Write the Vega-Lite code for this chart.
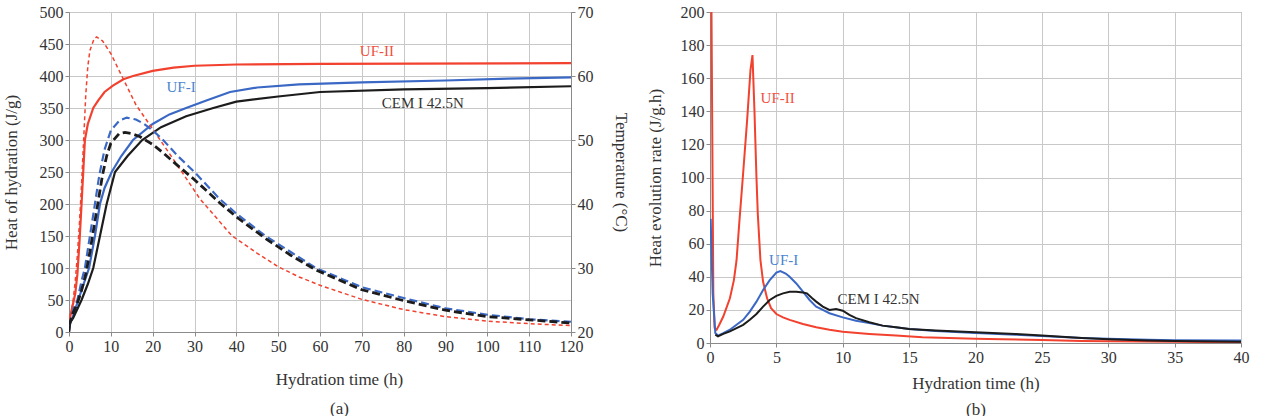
{
  "$schema": "https://vega.github.io/schema/vega-lite/v6.json",
  "background": "white",
  "padding": {"left": 1, "top": 3, "right": 5, "bottom": 0},
  "spacing": 15,
  "config": {
    "font": "Liberation Serif",
    "axis": {
      "labelFont": "Liberation Serif",
      "titleFont": "Liberation Serif",
      "labelFontSize": 16,
      "titleFontSize": 17,
      "titleFontWeight": "normal",
      "labelColor": "#333333",
      "titleColor": "#333333",
      "labelOverlap": false,
      "labelFlush": false,
      "gridColor": "#c8c8c8",
      "gridOpacity": 1,
      "domainColor": "#8a8a8a",
      "tickColor": "#8a8a8a",
      "tickSize": 4
    },
    "view": {"stroke": "#999999"}
  },
  "datasets": {
    "heat": [
      {"series": "UF-II", "t": 0, "H": 0}, {"series": "UF-II", "t": 0.3, "H": 25}, {"series": "UF-II", "t": 1, "H": 45}, {"series": "UF-II", "t": 1.5, "H": 60}, {"series": "UF-II", "t": 2, "H": 90}, {"series": "UF-II", "t": 2.5, "H": 140}, {"series": "UF-II", "t": 3, "H": 200}, {"series": "UF-II", "t": 3.4, "H": 250}, {"series": "UF-II", "t": 3.8, "H": 300}, {"series": "UF-II", "t": 4.5, "H": 325}, {"series": "UF-II", "t": 5.8, "H": 350}, {"series": "UF-II", "t": 7, "H": 362}, {"series": "UF-II", "t": 8.5, "H": 375}, {"series": "UF-II", "t": 10.5, "H": 385}, {"series": "UF-II", "t": 13, "H": 395}, {"series": "UF-II", "t": 15.3, "H": 400}, {"series": "UF-II", "t": 20, "H": 408}, {"series": "UF-II", "t": 25, "H": 413}, {"series": "UF-II", "t": 30, "H": 416}, {"series": "UF-II", "t": 40, "H": 418}, {"series": "UF-II", "t": 60, "H": 419}, {"series": "UF-II", "t": 120, "H": 420},
      {"series": "UF-I", "t": 0, "H": 0}, {"series": "UF-I", "t": 0.3, "H": 15}, {"series": "UF-I", "t": 1, "H": 25}, {"series": "UF-I", "t": 2.2, "H": 50}, {"series": "UF-I", "t": 3.5, "H": 75}, {"series": "UF-I", "t": 4.8, "H": 100}, {"series": "UF-I", "t": 6.2, "H": 150}, {"series": "UF-I", "t": 7.4, "H": 200}, {"series": "UF-I", "t": 8.5, "H": 225}, {"series": "UF-I", "t": 10.2, "H": 250}, {"series": "UF-I", "t": 12.5, "H": 275}, {"series": "UF-I", "t": 15.3, "H": 300}, {"series": "UF-I", "t": 20, "H": 325}, {"series": "UF-I", "t": 24, "H": 340}, {"series": "UF-I", "t": 28, "H": 350}, {"series": "UF-I", "t": 33, "H": 362}, {"series": "UF-I", "t": 38.5, "H": 375}, {"series": "UF-I", "t": 45, "H": 382}, {"series": "UF-I", "t": 55, "H": 387}, {"series": "UF-I", "t": 70, "H": 390}, {"series": "UF-I", "t": 90, "H": 393}, {"series": "UF-I", "t": 105, "H": 396}, {"series": "UF-I", "t": 120, "H": 398},
      {"series": "CEM I 42.5N", "t": 0, "H": 0}, {"series": "CEM I 42.5N", "t": 0.3, "H": 15}, {"series": "CEM I 42.5N", "t": 1, "H": 22}, {"series": "CEM I 42.5N", "t": 3, "H": 50}, {"series": "CEM I 42.5N", "t": 4.5, "H": 75}, {"series": "CEM I 42.5N", "t": 5.8, "H": 100}, {"series": "CEM I 42.5N", "t": 7.4, "H": 150}, {"series": "CEM I 42.5N", "t": 9, "H": 200}, {"series": "CEM I 42.5N", "t": 11, "H": 250}, {"series": "CEM I 42.5N", "t": 14, "H": 275}, {"series": "CEM I 42.5N", "t": 17.5, "H": 300}, {"series": "CEM I 42.5N", "t": 22, "H": 320}, {"series": "CEM I 42.5N", "t": 28, "H": 337}, {"series": "CEM I 42.5N", "t": 34.5, "H": 350}, {"series": "CEM I 42.5N", "t": 40, "H": 360}, {"series": "CEM I 42.5N", "t": 50, "H": 368}, {"series": "CEM I 42.5N", "t": 60, "H": 375}, {"series": "CEM I 42.5N", "t": 80, "H": 379}, {"series": "CEM I 42.5N", "t": 100, "H": 381}, {"series": "CEM I 42.5N", "t": 120, "H": 384}
    ],
    "temp": [
      {"series": "UF-II", "t": 0, "T": 21.5}, {"series": "UF-II", "t": 0.5, "T": 23}, {"series": "UF-II", "t": 1, "T": 25}, {"series": "UF-II", "t": 1.5, "T": 28}, {"series": "UF-II", "t": 2, "T": 32}, {"series": "UF-II", "t": 2.5, "T": 37}, {"series": "UF-II", "t": 3, "T": 43}, {"series": "UF-II", "t": 3.5, "T": 50}, {"series": "UF-II", "t": 4, "T": 57}, {"series": "UF-II", "t": 4.5, "T": 61.5}, {"series": "UF-II", "t": 5, "T": 64}, {"series": "UF-II", "t": 6, "T": 65.8}, {"series": "UF-II", "t": 6.6, "T": 66.1}, {"series": "UF-II", "t": 8, "T": 65.5}, {"series": "UF-II", "t": 10, "T": 63.5}, {"series": "UF-II", "t": 13, "T": 59.5}, {"series": "UF-II", "t": 16, "T": 55.5}, {"series": "UF-II", "t": 21.8, "T": 50}, {"series": "UF-II", "t": 27, "T": 45}, {"series": "UF-II", "t": 31.3, "T": 40.8}, {"series": "UF-II", "t": 39, "T": 35}, {"series": "UF-II", "t": 45, "T": 32.3}, {"series": "UF-II", "t": 50, "T": 30.2}, {"series": "UF-II", "t": 55, "T": 28.6}, {"series": "UF-II", "t": 60, "T": 27.3}, {"series": "UF-II", "t": 70, "T": 25.1}, {"series": "UF-II", "t": 80, "T": 23.5}, {"series": "UF-II", "t": 90, "T": 22.4}, {"series": "UF-II", "t": 100, "T": 21.7}, {"series": "UF-II", "t": 110, "T": 21.3}, {"series": "UF-II", "t": 120, "T": 21},
      {"series": "UF-I", "t": 0, "T": 21}, {"series": "UF-I", "t": 0.5, "T": 22}, {"series": "UF-I", "t": 1, "T": 23.5}, {"series": "UF-I", "t": 2, "T": 25}, {"series": "UF-I", "t": 3, "T": 28}, {"series": "UF-I", "t": 3.8, "T": 30}, {"series": "UF-I", "t": 5, "T": 35}, {"series": "UF-I", "t": 6.2, "T": 40}, {"series": "UF-I", "t": 7, "T": 43.5}, {"series": "UF-I", "t": 7.4, "T": 45}, {"series": "UF-I", "t": 8.5, "T": 48.5}, {"series": "UF-I", "t": 10, "T": 51.5}, {"series": "UF-I", "t": 12, "T": 53}, {"series": "UF-I", "t": 13.8, "T": 53.5}, {"series": "UF-I", "t": 16, "T": 53.2}, {"series": "UF-I", "t": 18, "T": 52.5}, {"series": "UF-I", "t": 20, "T": 51.5}, {"series": "UF-I", "t": 22.5, "T": 50}, {"series": "UF-I", "t": 26, "T": 47.5}, {"series": "UF-I", "t": 30, "T": 45}, {"series": "UF-I", "t": 36, "T": 40.8}, {"series": "UF-I", "t": 40, "T": 38.5}, {"series": "UF-I", "t": 47, "T": 35}, {"series": "UF-I", "t": 53, "T": 32.5}, {"series": "UF-I", "t": 59, "T": 30}, {"series": "UF-I", "t": 70, "T": 27}, {"series": "UF-I", "t": 80, "T": 25.3}, {"series": "UF-I", "t": 90, "T": 23.7}, {"series": "UF-I", "t": 100, "T": 22.7}, {"series": "UF-I", "t": 110, "T": 22}, {"series": "UF-I", "t": 120, "T": 21.6},
      {"series": "CEM I 42.5N", "t": 0, "T": 21}, {"series": "CEM I 42.5N", "t": 0.5, "T": 22}, {"series": "CEM I 42.5N", "t": 1, "T": 23}, {"series": "CEM I 42.5N", "t": 2, "T": 24.5}, {"series": "CEM I 42.5N", "t": 3, "T": 26.5}, {"series": "CEM I 42.5N", "t": 4, "T": 29}, {"series": "CEM I 42.5N", "t": 5, "T": 32.5}, {"series": "CEM I 42.5N", "t": 6, "T": 36.5}, {"series": "CEM I 42.5N", "t": 7, "T": 40.5}, {"series": "CEM I 42.5N", "t": 8, "T": 44.5}, {"series": "CEM I 42.5N", "t": 9, "T": 47.5}, {"series": "CEM I 42.5N", "t": 10, "T": 49.5}, {"series": "CEM I 42.5N", "t": 12, "T": 51}, {"series": "CEM I 42.5N", "t": 13.4, "T": 51.2}, {"series": "CEM I 42.5N", "t": 15, "T": 51}, {"series": "CEM I 42.5N", "t": 17, "T": 50.5}, {"series": "CEM I 42.5N", "t": 20, "T": 49.3}, {"series": "CEM I 42.5N", "t": 22.5, "T": 48}, {"series": "CEM I 42.5N", "t": 26, "T": 46}, {"series": "CEM I 42.5N", "t": 30, "T": 43.8}, {"series": "CEM I 42.5N", "t": 36, "T": 40.2}, {"series": "CEM I 42.5N", "t": 40, "T": 38}, {"series": "CEM I 42.5N", "t": 47, "T": 34.6}, {"series": "CEM I 42.5N", "t": 53, "T": 32}, {"series": "CEM I 42.5N", "t": 59, "T": 29.7}, {"series": "CEM I 42.5N", "t": 70, "T": 26.6}, {"series": "CEM I 42.5N", "t": 80, "T": 24.9}, {"series": "CEM I 42.5N", "t": 90, "T": 23.4}, {"series": "CEM I 42.5N", "t": 100, "T": 22.4}, {"series": "CEM I 42.5N", "t": 110, "T": 21.9}, {"series": "CEM I 42.5N", "t": 120, "T": 21.4}
    ],
    "rate": [
      {"series": "UF-II", "t": 0.1, "r": 215}, {"series": "UF-II", "t": 0.25, "r": 30}, {"series": "UF-II", "t": 0.35, "r": 9}, {"series": "UF-II", "t": 0.5, "r": 8}, {"series": "UF-II", "t": 0.7, "r": 11}, {"series": "UF-II", "t": 1, "r": 16}, {"series": "UF-II", "t": 1.5, "r": 27}, {"series": "UF-II", "t": 1.8, "r": 38}, {"series": "UF-II", "t": 2, "r": 50}, {"series": "UF-II", "t": 2.2, "r": 72}, {"series": "UF-II", "t": 2.5, "r": 103}, {"series": "UF-II", "t": 2.8, "r": 135}, {"series": "UF-II", "t": 3.05, "r": 165}, {"series": "UF-II", "t": 3.2, "r": 174}, {"series": "UF-II", "t": 3.35, "r": 140}, {"series": "UF-II", "t": 3.5, "r": 100}, {"series": "UF-II", "t": 3.6, "r": 78}, {"series": "UF-II", "t": 3.8, "r": 50}, {"series": "UF-II", "t": 4, "r": 37}, {"series": "UF-II", "t": 4.3, "r": 27}, {"series": "UF-II", "t": 4.6, "r": 21}, {"series": "UF-II", "t": 5, "r": 17.5}, {"series": "UF-II", "t": 5.5, "r": 15.5}, {"series": "UF-II", "t": 6, "r": 14}, {"series": "UF-II", "t": 7, "r": 11.5}, {"series": "UF-II", "t": 8, "r": 9.5}, {"series": "UF-II", "t": 9, "r": 8}, {"series": "UF-II", "t": 10, "r": 6.8}, {"series": "UF-II", "t": 12, "r": 5.5}, {"series": "UF-II", "t": 14, "r": 4.5}, {"series": "UF-II", "t": 16, "r": 3.5}, {"series": "UF-II", "t": 18, "r": 3}, {"series": "UF-II", "t": 20, "r": 2.5}, {"series": "UF-II", "t": 22, "r": 2.2}, {"series": "UF-II", "t": 25, "r": 1.8}, {"series": "UF-II", "t": 28, "r": 1.2}, {"series": "UF-II", "t": 30, "r": 1}, {"series": "UF-II", "t": 35, "r": 0.7}, {"series": "UF-II", "t": 40, "r": 0.5},
      {"series": "UF-I", "t": 0.05, "r": 75}, {"series": "UF-I", "t": 0.2, "r": 30}, {"series": "UF-I", "t": 0.4, "r": 6}, {"series": "UF-I", "t": 0.6, "r": 4.5}, {"series": "UF-I", "t": 1, "r": 6}, {"series": "UF-I", "t": 1.5, "r": 8}, {"series": "UF-I", "t": 2, "r": 11}, {"series": "UF-I", "t": 2.5, "r": 14}, {"series": "UF-I", "t": 3, "r": 19}, {"series": "UF-I", "t": 3.5, "r": 25}, {"series": "UF-I", "t": 4, "r": 32}, {"series": "UF-I", "t": 4.5, "r": 38}, {"series": "UF-I", "t": 5, "r": 42.5}, {"series": "UF-I", "t": 5.3, "r": 43.5}, {"series": "UF-I", "t": 5.7, "r": 42}, {"series": "UF-I", "t": 6, "r": 40}, {"series": "UF-I", "t": 6.5, "r": 36}, {"series": "UF-I", "t": 7, "r": 31}, {"series": "UF-I", "t": 7.5, "r": 26}, {"series": "UF-I", "t": 8, "r": 22}, {"series": "UF-I", "t": 8.5, "r": 20}, {"series": "UF-I", "t": 9, "r": 18}, {"series": "UF-I", "t": 10, "r": 15.5}, {"series": "UF-I", "t": 11, "r": 13.5}, {"series": "UF-I", "t": 12, "r": 12}, {"series": "UF-I", "t": 13, "r": 10.5}, {"series": "UF-I", "t": 14, "r": 9.5}, {"series": "UF-I", "t": 15, "r": 8.5}, {"series": "UF-I", "t": 17, "r": 7.2}, {"series": "UF-I", "t": 20, "r": 6}, {"series": "UF-I", "t": 23, "r": 5}, {"series": "UF-I", "t": 25, "r": 4.2}, {"series": "UF-I", "t": 28, "r": 3}, {"series": "UF-I", "t": 30, "r": 2.5}, {"series": "UF-I", "t": 33, "r": 2}, {"series": "UF-I", "t": 35, "r": 1.7}, {"series": "UF-I", "t": 40, "r": 1.5},
      {"series": "CEM I 42.5N", "t": 0.4, "r": 5}, {"series": "CEM I 42.5N", "t": 0.6, "r": 4}, {"series": "CEM I 42.5N", "t": 1, "r": 5.5}, {"series": "CEM I 42.5N", "t": 1.5, "r": 7}, {"series": "CEM I 42.5N", "t": 2, "r": 9}, {"series": "CEM I 42.5N", "t": 2.5, "r": 11}, {"series": "CEM I 42.5N", "t": 3, "r": 14}, {"series": "CEM I 42.5N", "t": 3.5, "r": 17.5}, {"series": "CEM I 42.5N", "t": 4, "r": 22}, {"series": "CEM I 42.5N", "t": 4.5, "r": 26}, {"series": "CEM I 42.5N", "t": 5, "r": 28.5}, {"series": "CEM I 42.5N", "t": 5.5, "r": 30}, {"series": "CEM I 42.5N", "t": 6, "r": 31}, {"series": "CEM I 42.5N", "t": 6.5, "r": 31}, {"series": "CEM I 42.5N", "t": 7, "r": 30.5}, {"series": "CEM I 42.5N", "t": 7.3, "r": 30}, {"series": "CEM I 42.5N", "t": 7.7, "r": 27}, {"series": "CEM I 42.5N", "t": 8, "r": 25}, {"series": "CEM I 42.5N", "t": 8.5, "r": 22}, {"series": "CEM I 42.5N", "t": 9, "r": 20}, {"series": "CEM I 42.5N", "t": 9.5, "r": 20.5}, {"series": "CEM I 42.5N", "t": 10, "r": 19.5}, {"series": "CEM I 42.5N", "t": 10.5, "r": 17}, {"series": "CEM I 42.5N", "t": 11, "r": 15}, {"series": "CEM I 42.5N", "t": 12, "r": 12.5}, {"series": "CEM I 42.5N", "t": 13, "r": 10.5}, {"series": "CEM I 42.5N", "t": 14, "r": 9.5}, {"series": "CEM I 42.5N", "t": 15, "r": 8.5}, {"series": "CEM I 42.5N", "t": 17, "r": 7.5}, {"series": "CEM I 42.5N", "t": 20, "r": 6.5}, {"series": "CEM I 42.5N", "t": 23, "r": 5.5}, {"series": "CEM I 42.5N", "t": 25, "r": 4.5}, {"series": "CEM I 42.5N", "t": 28, "r": 3}, {"series": "CEM I 42.5N", "t": 30, "r": 2.2}, {"series": "CEM I 42.5N", "t": 33, "r": 1.5}, {"series": "CEM I 42.5N", "t": 35, "r": 1.2}, {"series": "CEM I 42.5N", "t": 40, "r": 0.8}
    ],
    "labelsA": [
      {"series": "UF-II", "label": "UF-II", "t": 73.6, "H": 439},
      {"series": "UF-I", "label": "UF-I", "t": 26.8, "H": 383},
      {"series": "CEM I 42.5N", "label": "CEM I 42.5N", "t": 84.6, "H": 358}
    ],
    "labelsB": [
      {"series": "UF-II", "label": "UF-II", "t": 5.1, "r": 148},
      {"series": "UF-I", "label": "UF-I", "t": 5.55, "r": 50},
      {"series": "CEM I 42.5N", "label": "CEM I 42.5N", "t": 12.7, "r": 26.6}
    ]
  },
  "hconcat": [
    {
      "width": 502,
      "height": 320,
      "layer": [
        {
          "encoding": {
            "x": {"field": "t", "type": "quantitative", "scale": {"domain": [0, 120], "nice": false},
              "axis": {"values": [0, 10, 20, 30, 40, 50, 60, 70, 80, 90, 100, 110, 120], "title": ["Hydration time (h)", "(a)"], "titleLineHeight": 29, "titlePadding": 17, "titleX": 270}},
            "y": {"field": "H", "type": "quantitative", "scale": {"domain": [0, 500], "nice": false},
              "axis": {"values": [0, 50, 100, 150, 200, 250, 300, 350, 400, 450, 500], "title": "Heat of hydration (J/g)", "titlePadding": 19}}
          },
          "layer": [
            {
              "data": {"name": "heat"},
              "mark": {"type": "line", "strokeWidth": 2.2, "clip": true},
              "encoding": {
                "color": {"field": "series", "type": "nominal", "scale": {"domain": ["UF-II", "UF-I", "CEM I 42.5N"], "range": ["#f2412e", "#3a68c4", "#1c1c1c"]}, "legend": null}
              }
            },
            {
              "data": {"name": "labelsA"},
              "mark": {"type": "text", "fontSize": 15, "font": "Liberation Serif", "baseline": "middle", "align": "center"},
              "encoding": {
                "text": {"field": "label"},
                "fill": {"field": "series", "type": "nominal", "scale": {"domain": ["UF-II", "UF-I", "CEM I 42.5N"], "range": ["#f0503f", "#4a85cf", "#333333"]}, "legend": null}
              }
            }
          ]
        },
        {
          "data": {"name": "temp"},
          "mark": {"type": "line", "clip": true},
          "encoding": {
            "x": {"field": "t", "type": "quantitative", "scale": {"domain": [0, 120], "nice": false},
              "axis": {"values": [0, 10, 20, 30, 40, 50, 60, 70, 80, 90, 100, 110, 120], "title": ["Hydration time (h)", "(a)"], "titleLineHeight": 29, "titlePadding": 17, "titleX": 270}},
            "y": {"field": "T", "type": "quantitative", "scale": {"domain": [20, 70], "nice": false},
              "axis": {"orient": "right", "values": [20, 30, 40, 50, 60, 70], "grid": false, "title": "Temperature (°C)", "titlePadding": 18}},
            "color": {"field": "series", "type": "nominal", "legend": null},
            "strokeDash": {"field": "series", "type": "nominal", "scale": {"domain": ["UF-II", "UF-I", "CEM I 42.5N"], "range": [[4, 3], [8, 4], [8, 4]]}, "legend": null},
            "strokeWidth": {"field": "series", "type": "nominal", "scale": {"domain": ["UF-II", "UF-I", "CEM I 42.5N"], "range": [1.5, 2.8, 2.8]}, "legend": null}
          }
        }
      ],
      "resolve": {"scale": {"y": "independent"}}
    },
    {
      "width": 531,
      "height": 331,
      "encoding": {
        "x": {"field": "t", "type": "quantitative", "scale": {"domain": [0, 40], "nice": false},
          "axis": {"values": [0, 5, 10, 15, 20, 25, 30, 35, 40], "title": ["Hydration time (h)", "(b)"], "titleLineHeight": 26, "titlePadding": 10}},
        "y": {"field": "r", "type": "quantitative", "scale": {"domain": [0, 200], "nice": false},
          "axis": {"values": [0, 20, 40, 60, 80, 100, 120, 140, 160, 180, 200], "title": "Heat evolution rate (J/g.h)", "titlePadding": 16}}
      },
      "layer": [
        {
          "data": {"name": "rate"},
          "mark": {"type": "line", "strokeWidth": 2, "clip": true},
          "encoding": {
            "color": {"field": "series", "type": "nominal", "scale": {"domain": ["UF-II", "UF-I", "CEM I 42.5N"], "range": ["#f2412e", "#3a68c4", "#1c1c1c"]}, "legend": null}
          }
        },
        {
          "data": {"name": "labelsB"},
          "mark": {"type": "text", "fontSize": 15, "font": "Liberation Serif", "baseline": "middle", "align": "center"},
          "encoding": {
            "text": {"field": "label"},
            "fill": {"field": "series", "type": "nominal", "scale": {"domain": ["UF-II", "UF-I", "CEM I 42.5N"], "range": ["#f0503f", "#4a85cf", "#333333"]}, "legend": null}
          }
        }
      ]
    }
  ]
}
